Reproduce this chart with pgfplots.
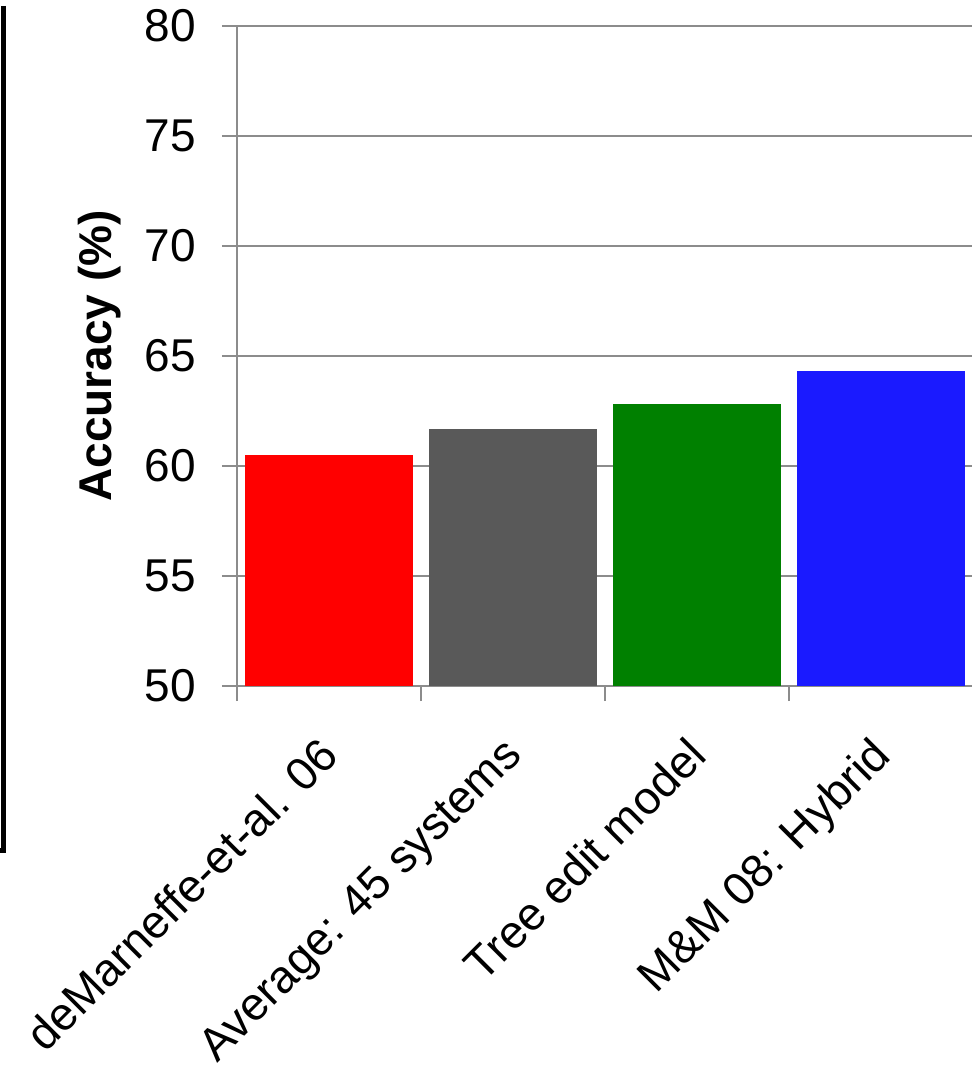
\documentclass[border=0pt]{standalone}
\usepackage{fontspec}
\setmainfont{Liberation Sans}
\usepackage{pgfplots}
\pgfplotsset{compat=1.18}

\definecolor{barred}{HTML}{FF0000}
\definecolor{bargray}{HTML}{595959}
\definecolor{bargreen}{HTML}{008000}
\definecolor{barblue}{HTML}{1A1AFF}
\definecolor{gridgray}{HTML}{8C8C8C}

\newcommand\chartfont{\fontsize{23}{27.6}\selectfont}

\begin{document}
\begin{tikzpicture}
\begin{axis}[
  name=ax,
  at={(0,0)}, anchor=south west,
  scale only axis,
  width=368pt, height=330pt,
  xmin=-0.5, xmax=3.5,
  ymin=50, ymax=80,
  ytick={50,55,...,80},
  xtick={0,1,2,3},
  xticklabels={deMarneffe-et-al. 06, Average: 45 systems, Tree edit model, M\&M 08: Hybrid},
  minor xtick={-0.5,0.5,1.5,2.5,3.5},
  major x tick style={draw=none},
  tick align=outside,
  major tick length=7.5pt,
  minor tick length=7.5pt,
  tick style={gridgray, line width=1.25pt},
  axis lines*=left,
  axis line style={gridgray, line width=1.25pt},
  ymajorgrids,
  major grid style={gridgray, line width=1.25pt},
  /pgf/number format/assume math mode=true,
  tick label style={font=\chartfont, inner sep=0pt},
  yticklabel style={anchor=east, xshift=-13pt},
  xticklabel style={rotate=45, anchor=north east, xshift=-16pt, yshift=-7.5pt},
  ylabel={Accuracy (\%)},
  ylabel style={font=\chartfont\bfseries, at={(axis description cs:-0.186,0.5)}, anchor=center},
  ybar,
  bar width=84pt,
]
\addplot[fill=barred, draw=none, bar shift=0pt] coordinates {(0,60.5)};
\addplot[fill=bargray, draw=none, bar shift=0pt] coordinates {(1,61.7)};
\addplot[fill=bargreen, draw=none, bar shift=0pt] coordinates {(2,62.8)};
\addplot[fill=barblue, draw=none, bar shift=0pt] coordinates {(3,64.3)};
\end{axis}
% frame edge at the left of the slide
\draw[line width=2.5pt] ([shift={(-116.5pt,10pt)}]ax.north west)
  -- ([shift={(-116.5pt,-82pt)}]ax.south west)
  -- ([shift={(-130pt,-82pt)}]ax.south west);
\pgfresetboundingbox
\path ([shift={(-118.5pt,-194.5pt)}]ax.south west) rectangle ([shift={(367.5pt,343pt)}]ax.south west);
\end{tikzpicture}
\end{document}
